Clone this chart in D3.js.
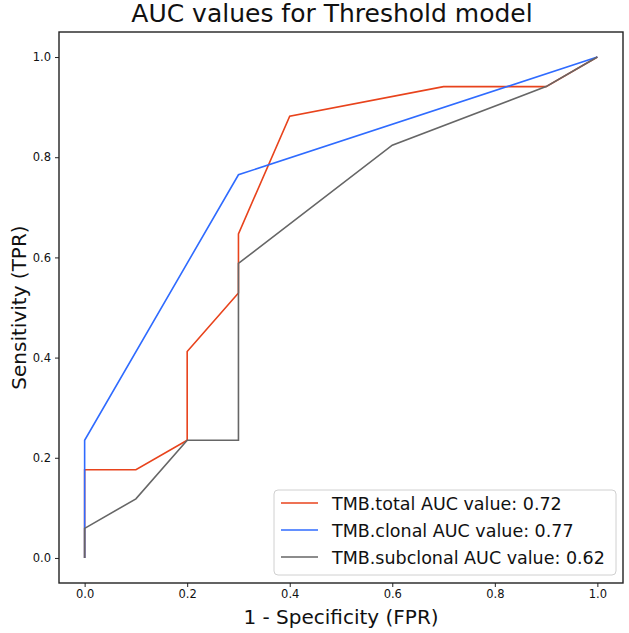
<!DOCTYPE html>
<html><head><meta charset="utf-8">
<script src="https://cdn.jsdelivr.net/npm/d3@7"></script>
<style>body{margin:0;background:#fff}svg{display:block}text{font-family:"DejaVu Sans",sans-serif}</style>
</head><body><svg id="c" width="629" height="633"></svg>
<script>
const totalFPR = [0, 0, 0.1, 0.2, 0.2, 0.3, 0.3, 0.4, 0.7, 0.9, 1.0];
const totalTPR = [0, 0.176, 0.176, 0.235, 0.412, 0.529, 0.647, 0.882, 0.941, 0.941, 1.0];
const clonalFPR = [0, 0, 0.3, 1.0];
const clonalTPR = [0, 0.235, 0.765, 1.0];
const subclonalFPR = [0, 0, 0.1, 0.2, 0.3, 0.3, 0.6, 0.9, 1.0];
const subclonalTPR = [0, 0.059, 0.118, 0.235, 0.235, 0.588, 0.824, 0.941, 1.0];
const seriesNames = ["TMB.total AUC value: 0.72", "TMB.clonal AUC value: 0.77", "TMB.subclonal AUC value: 0.62"];
const seriesColors = ["#e8431c", "#2f6bff", "#666666"];
const ticks = [0, 0.2, 0.4, 0.6, 0.8, 1.0];

const svg = d3.select("#c");
const L = 59, R = 623, T = 32, B = 583;
const x = d3.scaleLinear().domain([-0.05, 1.05]).range([L, R]);
const y = d3.scaleLinear().domain([-0.05, 1.05]).range([B, T]);

const series = [
  {fpr: totalFPR, tpr: totalTPR},
  {fpr: clonalFPR, tpr: clonalTPR},
  {fpr: subclonalFPR, tpr: subclonalTPR}
];
const line = d3.line().x(d => x(d[0])).y(d => y(d[1]));
series.forEach((s, i) => {
  svg.append("path").datum(s.fpr.map((f, j) => [f, s.tpr[j]]))
    .attr("d", line).attr("fill", "none").attr("stroke", seriesColors[i]).attr("stroke-width", 1.6);
});

const xa = svg.append("g").attr("transform", `translate(0,${B})`)
  .call(d3.axisBottom(x).tickValues(ticks).tickFormat(d3.format(".1f")).tickSize(4).tickPadding(3));
const ya = svg.append("g").attr("transform", `translate(${L},0)`)
  .call(d3.axisLeft(y).tickValues(ticks).tickFormat(d3.format(".1f")).tickSize(4).tickPadding(4));
[xa, ya].forEach(a => {
  a.select(".domain").remove();
  a.selectAll("text").attr("font-size", 11.5).attr("fill", "#111").attr("font-family", "DejaVu Sans");
  a.selectAll("line").attr("stroke", "#222");
});
svg.append("rect").attr("x", L).attr("y", T).attr("width", R - L).attr("height", B - T)
  .attr("fill", "none").attr("stroke", "#222").attr("stroke-width", 1.4);

svg.append("text").attr("x", 332).attr("y", 22).attr("text-anchor", "middle")
  .attr("font-size", 25).attr("fill", "#111").text("AUC values for Threshold model");
svg.append("text").attr("x", (L + R) / 2).attr("y", 624).attr("text-anchor", "middle")
  .attr("font-size", 20).attr("fill", "#111").text("1 - Specificity (FPR)");
svg.append("text").attr("transform", `translate(26,${(T + B) / 2}) rotate(-90)`).attr("text-anchor", "middle")
  .attr("font-size", 20).attr("fill", "#111").text("Sensitivity (TPR)");

const lg = svg.append("g");
lg.append("rect").attr("x", 274).attr("y", 490).attr("width", 342).attr("height", 85).attr("rx", 4)
  .attr("fill", "#fff").attr("fill-opacity", 0.85).attr("stroke", "#d0d0d0");
seriesNames.forEach((n, i) => {
  const yy = 503 + i * 27;
  lg.append("line").attr("x1", 281).attr("x2", 318).attr("y1", yy).attr("y2", yy)
    .attr("stroke", seriesColors[i]).attr("stroke-width", 1.6);
  lg.append("text").attr("x", 332).attr("y", yy + 6.5).attr("font-size", 17.5).attr("fill", "#111").text(n);
});
</script></body></html>
